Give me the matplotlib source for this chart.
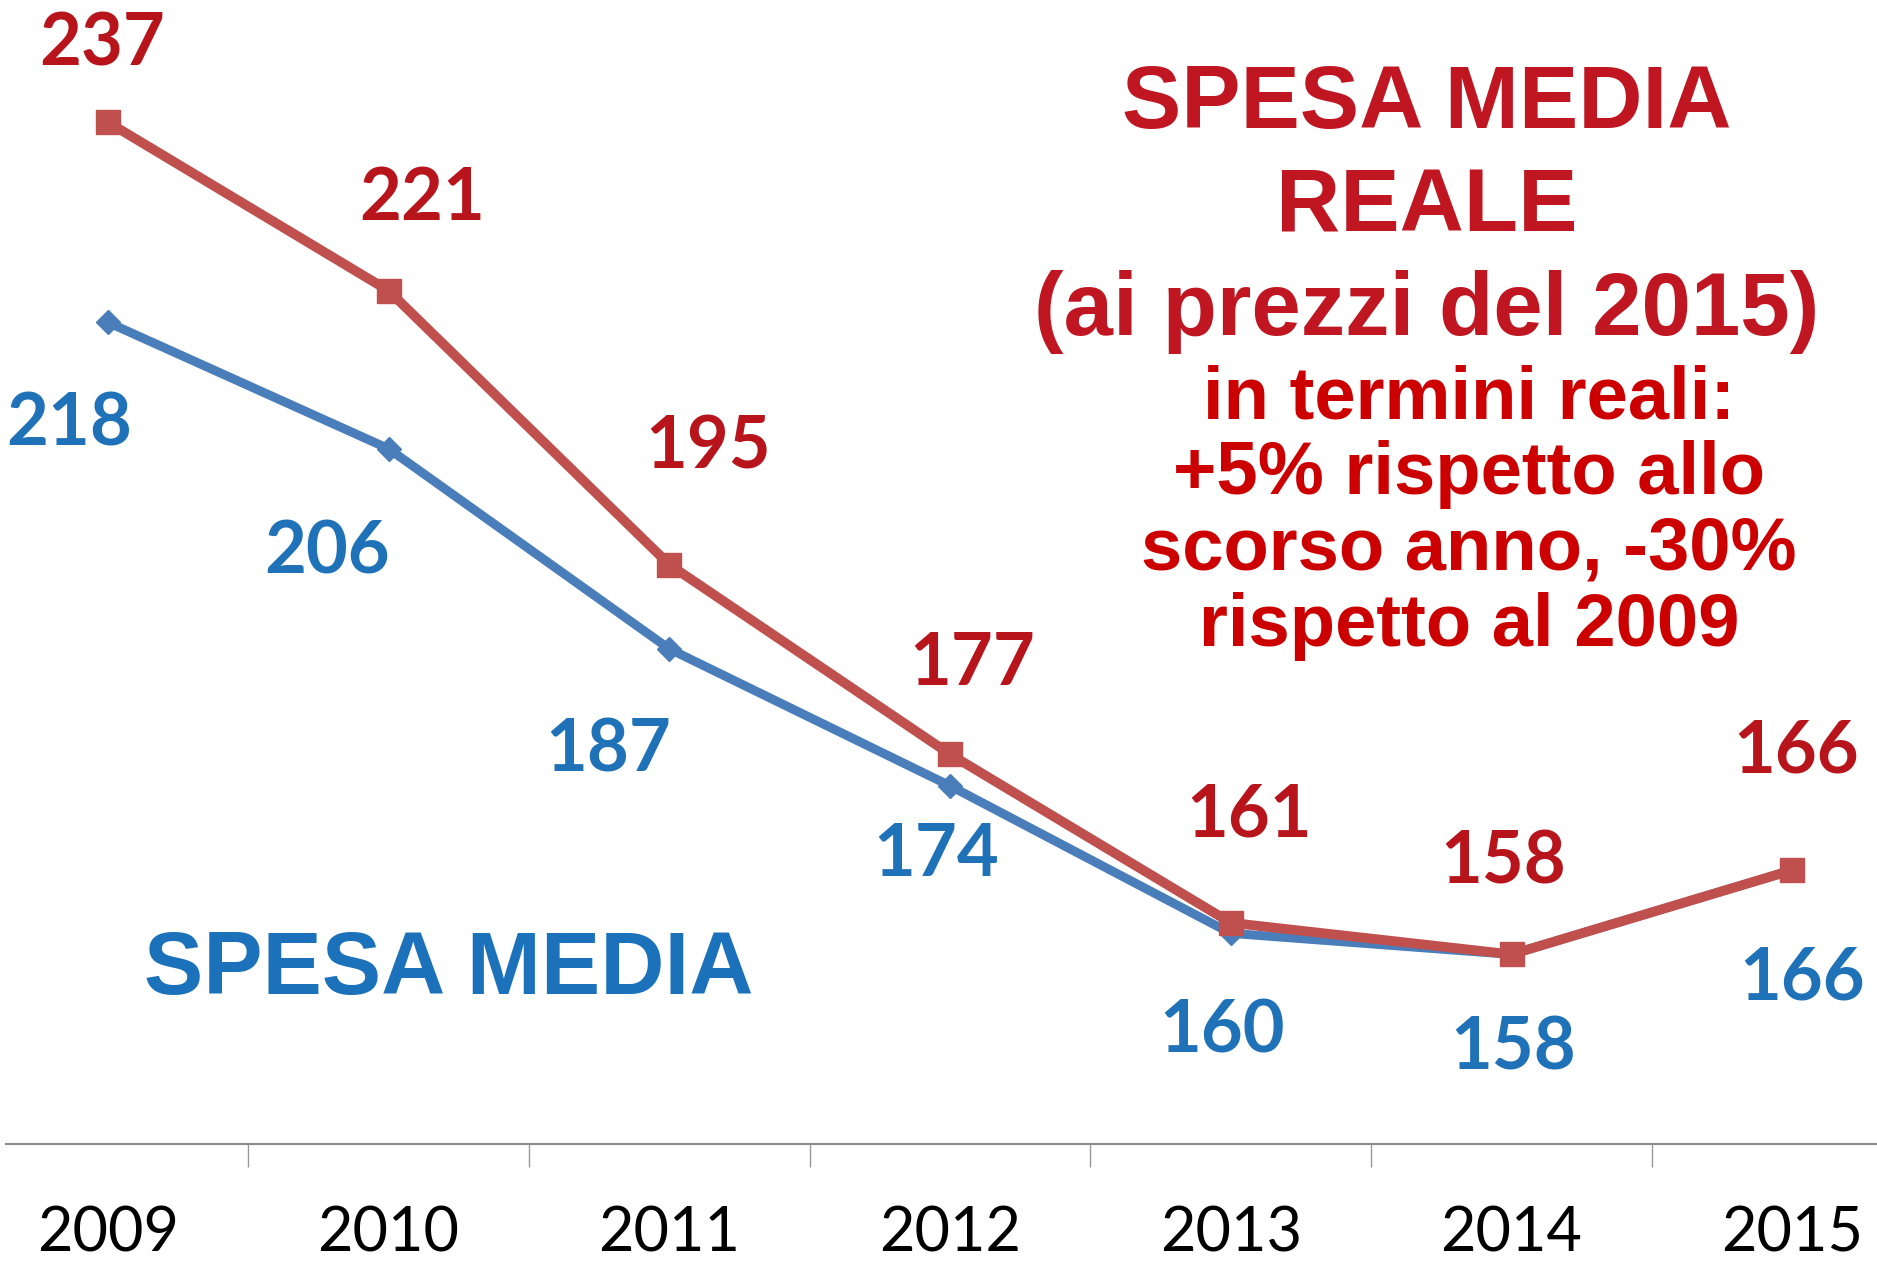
import numpy as np
import matplotlib
matplotlib.use("Agg")
import matplotlib.pyplot as plt

### Data ###
years = ["2009", "2010", "2011", "2012", "2013", "2014", "2015"]
spesa_media = [218, 206, 187, 174, 160, 158, 166]          # blue
spesa_reale = [237, 221, 195, 177, 161, 158, 166]          # red, prezzi 2015

title_reale = ["SPESA MEDIA", "REALE", "(ai prezzi del 2015)"]
note_lines = ["in termini reali:", "+5% rispetto allo",
              "scorso anno, -30%", "rispetto al 2009"]
title_media = "SPESA MEDIA"

### label offsets (points, relative to the marker, baseline) ###
red_off = [(-4, 41), (24, 51), (28, 69), (16, 50), (13, 62), (-6, 51), (3, 70)]
blue_off = [(-28, -89), (-44, -90), (-44, -88), (-10, -65), (-6, -86), (1, -83), (7, -93)]

c_red_line = '#C0504D'
c_blue_line = '#4A7EBB'
c_red_lab = '#B8141C'
c_blue_lab = '#2072B8'

W, H = 1877, 1261
fig = plt.figure(figsize=(W/100, H/100), dpi=100)
ax = fig.add_axes([6/W, 1-1144/H, 1-6/W, 1144/H])

x = np.arange(len(years))
ax.plot(x, spesa_media, color=c_blue_line, lw=6.5, marker='D', ms=12.5,
        solid_joinstyle='round', zorder=2)
ax.plot(x, spesa_reale, color=c_red_line, lw=7, marker='s', ms=17,
        solid_joinstyle='round', zorder=3)

ax.set_xlim(-0.363, 6.302)
ax.set_ylim(140, 248.6)

### value labels ###
for xi, v, (dx, dy) in zip(x, spesa_reale, red_off):
    ax.annotate(str(v), (xi, v), xytext=(dx, dy), textcoords='offset points',
                ha='center', va='baseline', fontsize=52, fontweight='bold',
                family='Lato', color=c_red_lab)
for xi, v, (dx, dy) in zip(x, spesa_media, blue_off):
    ax.annotate(str(v), (xi, v), xytext=(dx, dy), textcoords='offset points',
                ha='center', va='baseline', fontsize=52, fontweight='bold',
                family='Lato', color=c_blue_lab)

### axes styling ###
for s in ['top', 'right', 'left']:
    ax.spines[s].set_visible(False)
ax.spines['bottom'].set_color('#8a8a8a')
ax.spines['bottom'].set_linewidth(1.5)
ax.set_yticks([])
ax.set_xticks(x)
ax.set_xticklabels(years, fontsize=44, family='Lato')
ax.set_xticks(x[:-1] + 0.5, minor=True)
ax.tick_params(axis='x', which='major', length=0, pad=44)
ax.tick_params(axis='x', which='minor', length=16.5, width=1, color='#999999')
ax.set_facecolor('none')

### titles ###
base_red = [128, 231, 335]
for txt, yb in zip(title_reale, base_red):
    fig.text(1427/W, 1-yb/H, txt, ha='center', va='baseline', fontsize=64,
             fontweight='bold', family='Liberation Sans', color='#BF1622')

base_note = [419, 494, 570, 646]
for txt, yb in zip(note_lines, base_note):
    fig.text(1469/W, 1-yb/H, txt, ha='center', va='baseline', fontsize=53.5,
             fontweight='bold', family='Liberation Sans', color='#CC0000')

fig.text(449/W, 1-994/H, title_media, ha='center', va='baseline', fontsize=64,
         fontweight='bold', family='Liberation Sans', color='#1B72BA')

plt.savefig("out.png", dpi=100)
